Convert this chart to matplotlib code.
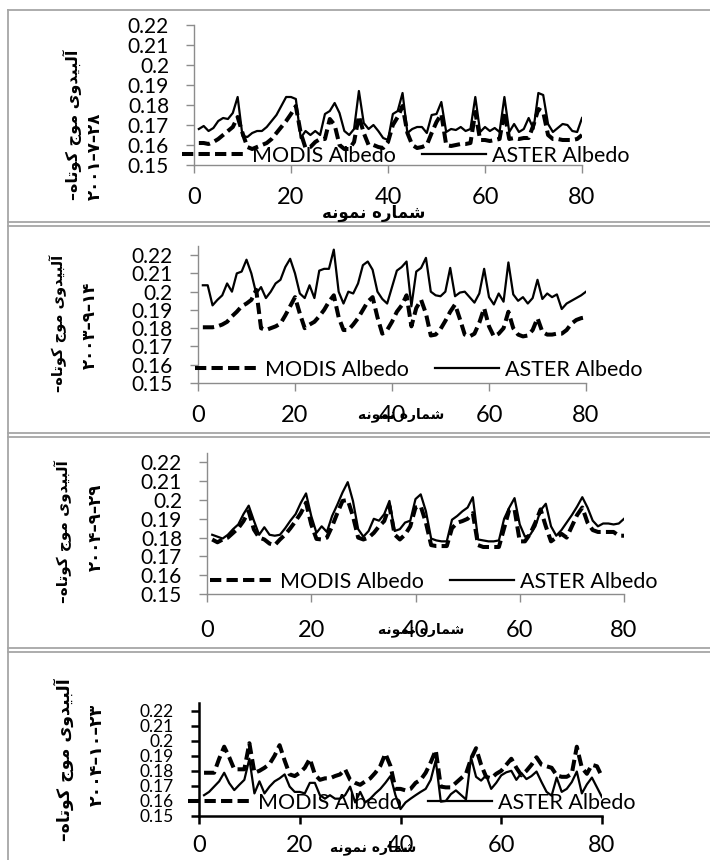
import matplotlib
matplotlib.use("Agg")
import matplotlib.pyplot as plt
from matplotlib.lines import Line2D
import numpy as np

plt.rcParams['font.family'] = ['Lato', 'DejaVu Sans']

W, H = 710, 860

# ---- data (sample number 1..80) ----
x = np.arange(1, 81)

aster_2001 = [0.168, 0.1695, 0.167, 0.1685, 0.172, 0.1735, 0.173, 0.176, 0.184, 0.1645,
              0.164, 0.166, 0.167, 0.167, 0.169, 0.172, 0.175, 0.1795, 0.184, 0.184,
              0.183, 0.1635, 0.167, 0.165, 0.167, 0.165, 0.1755, 0.177, 0.181, 0.176,
              0.167, 0.165, 0.168, 0.187, 0.171, 0.168, 0.170, 0.167, 0.1635, 0.1625,
              0.1755, 0.177, 0.186, 0.166, 0.168, 0.169, 0.169, 0.166, 0.175, 0.1755,
              0.1815, 0.1665, 0.168, 0.1675, 0.169, 0.167, 0.168, 0.184, 0.1665, 0.169,
              0.167, 0.1685, 0.1665, 0.184, 0.1665, 0.1705, 0.1665, 0.168, 0.1735, 0.168,
              0.186, 0.185, 0.1705, 0.1665, 0.1685, 0.1705, 0.170, 0.167, 0.1665, 0.1735]
modis_2001 = [0.161, 0.161, 0.1605, 0.1615, 0.163, 0.165, 0.167, 0.169, 0.174, 0.166,
              0.159, 0.158, 0.159, 0.160, 0.161, 0.163, 0.166, 0.169, 0.172, 0.1755,
              0.1795, 0.166, 0.1585, 0.159, 0.1615, 0.163, 0.163, 0.173, 0.170, 0.160,
              0.158, 0.158, 0.1615, 0.1745, 0.166, 0.160, 0.160, 0.159, 0.1585, 0.1615,
              0.170, 0.174, 0.1795, 0.166, 0.160, 0.1585, 0.159, 0.160, 0.166, 0.1715,
              0.1755, 0.160, 0.1595, 0.160, 0.1605, 0.1605, 0.161, 0.1765, 0.1625, 0.1625,
              0.162, 0.1625, 0.163, 0.1765, 0.163, 0.1635, 0.163, 0.1635, 0.1635, 0.170,
              0.178, 0.1765, 0.165, 0.163, 0.163, 0.1625, 0.1625, 0.1625, 0.163, 0.165]

aster_2003 = [0.2035, 0.2035, 0.1925, 0.1955, 0.198, 0.2045, 0.200, 0.210, 0.211, 0.2175,
              0.210, 0.199, 0.2025, 0.1965, 0.200, 0.2045, 0.2065, 0.2135, 0.218, 0.210,
              0.199, 0.1965, 0.2035, 0.1965, 0.2115, 0.2125, 0.2125, 0.223, 0.200, 0.1935,
              0.200, 0.199, 0.2045, 0.2145, 0.2165, 0.212, 0.200, 0.196, 0.1935, 0.2025,
              0.2115, 0.2135, 0.2165, 0.192, 0.211, 0.213, 0.2185, 0.200, 0.198, 0.1975,
              0.200, 0.213, 0.1975, 0.1995, 0.200, 0.197, 0.194, 0.199, 0.2125, 0.197,
              0.193, 0.199, 0.1945, 0.216, 0.1985, 0.195, 0.197, 0.1935, 0.1965, 0.2065,
              0.196, 0.199, 0.197, 0.1985, 0.1905, 0.1935, 0.195, 0.1965, 0.198, 0.200]
modis_2003 = [0.1805, 0.1805, 0.1805, 0.181, 0.182, 0.1835, 0.1865, 0.189, 0.192, 0.1935,
              0.1955, 0.201, 0.180, 0.179, 0.180, 0.181, 0.1825, 0.187, 0.192, 0.197,
              0.188, 0.180, 0.182, 0.1835, 0.1865, 0.190, 0.1945, 0.198, 0.186, 0.179,
              0.179, 0.182, 0.1855, 0.190, 0.1945, 0.197, 0.186, 0.177, 0.179, 0.1835,
              0.189, 0.1925, 0.198, 0.181, 0.191, 0.1955, 0.188, 0.176, 0.1765, 0.1795,
              0.184, 0.189, 0.193, 0.185, 0.1765, 0.1755, 0.177, 0.183, 0.191, 0.181,
              0.1755, 0.177, 0.180, 0.189, 0.180, 0.1765, 0.1755, 0.176, 0.179, 0.1855,
              0.178, 0.1765, 0.1765, 0.177, 0.177, 0.179, 0.1825, 0.1845, 0.1855, 0.186]

aster_2004a = [0.1815, 0.1805, 0.1795, 0.1815, 0.1845, 0.187, 0.1925, 0.197, 0.189, 0.1815,
               0.1855, 0.1815, 0.181, 0.1815, 0.185, 0.189, 0.1925, 0.1985, 0.2035, 0.1915,
               0.1825, 0.186, 0.183, 0.1915, 0.1975, 0.204, 0.2095, 0.1995, 0.1845, 0.1805,
               0.1835, 0.190, 0.189, 0.1925, 0.1995, 0.1835, 0.1845, 0.188, 0.189, 0.2005,
               0.203, 0.194, 0.1795, 0.1785, 0.178, 0.178, 0.1895, 0.1915, 0.194, 0.196,
               0.2015, 0.179, 0.1785, 0.178, 0.178, 0.1785, 0.190, 0.196, 0.201, 0.187,
               0.1805, 0.1815, 0.186, 0.1945, 0.198, 0.186, 0.181, 0.184, 0.188, 0.192,
               0.1965, 0.2015, 0.196, 0.189, 0.186, 0.1875, 0.1875, 0.187, 0.1875, 0.190]
modis_2004a = [0.179, 0.1775, 0.179, 0.180, 0.1825, 0.185, 0.1888, 0.194, 0.1843, 0.180,
               0.179, 0.1768, 0.176, 0.179, 0.1816, 0.185, 0.1888, 0.193, 0.1986, 0.187,
               0.1793, 0.179, 0.180, 0.186, 0.193, 0.1995, 0.200, 0.1914, 0.180, 0.179,
               0.180, 0.1825, 0.186, 0.1888, 0.1968, 0.1816, 0.179, 0.1816, 0.186, 0.196,
               0.1968, 0.1879, 0.176, 0.1755, 0.1755, 0.1755, 0.185, 0.1879, 0.1888, 0.190,
               0.193, 0.176, 0.175, 0.175, 0.175, 0.175, 0.185, 0.195, 0.195, 0.178,
               0.178, 0.182, 0.188, 0.195, 0.186, 0.178, 0.180, 0.182, 0.180, 0.186,
               0.192, 0.196, 0.188, 0.184, 0.183, 0.183, 0.183, 0.183, 0.181, 0.181]

aster_2004b = [0.1638, 0.166, 0.1695, 0.173, 0.1787, 0.1718, 0.1672, 0.1707, 0.174, 0.188,
               0.165, 0.173, 0.165, 0.1695, 0.173, 0.175, 0.1776, 0.1695, 0.166, 0.166,
               0.165, 0.172, 0.172, 0.1638, 0.1615, 0.1638, 0.1615, 0.1615, 0.1638, 0.1695,
               0.159, 0.166, 0.159, 0.1615, 0.165, 0.168, 0.172, 0.1765, 0.1638, 0.1546,
               0.159, 0.1615, 0.1638, 0.166, 0.168, 0.174, 0.187, 0.1595, 0.160, 0.1645,
               0.167, 0.164, 0.161, 0.189, 0.176, 0.1735, 0.177, 0.168, 0.172, 0.177,
               0.179, 0.180, 0.174, 0.1785, 0.1745, 0.1765, 0.1795, 0.1725, 0.166, 0.1635,
               0.1755, 0.166, 0.168, 0.1725, 0.1795, 0.165, 0.171, 0.1755, 0.169, 0.1625]
modis_2004b = [0.1787, 0.1787, 0.1787, 0.188, 0.196, 0.189, 0.181, 0.181, 0.181, 0.1983,
               0.1787, 0.180, 0.182, 0.1845, 0.190, 0.197, 0.1868, 0.1776, 0.1765, 0.1787,
               0.182, 0.188, 0.1776, 0.174, 0.175, 0.175, 0.1765, 0.1776, 0.181, 0.174,
               0.172, 0.1707, 0.173, 0.175, 0.1787, 0.1833, 0.1914, 0.1833, 0.168, 0.168,
               0.167, 0.168, 0.172, 0.174, 0.1787, 0.1856, 0.1937, 0.1695, 0.169, 0.169,
               0.172, 0.175, 0.178, 0.188, 0.195, 0.184, 0.176, 0.175, 0.178, 0.180,
               0.184, 0.188, 0.182, 0.177, 0.180, 0.184, 0.189, 0.184, 0.183, 0.182,
               0.177, 0.176, 0.176, 0.178, 0.196, 0.182, 0.178, 0.184, 0.183, 0.176]

# persian labels, written in visual (shaped, left-to-right) order
title_fa = ("\u2013" + "\uFEE9\uFE8E\uFE97\uFEEE\uFB90" + " " + "\uFE9D\uFEEE\uFEE3"
            + " " + "\uFBFC\uFEED\uFEAA\uFBFF\uFE92\uFEDF\uFE81")
xlabel_fa = "\uFEEA\uFEE7\uFEEE\uFEE4\uFEE7" + " " + "\uFEE9\uFEAD\uFE8E\uFEE4\uFEB7"
dates_fa = ["\u06F2\u06F0\u06F0\u06F1\u2013\u06F7\u2013\u06F2\u06F8",
            "\u06F2\u06F0\u06F0\u06F3\u2013\u06F9\u2013\u06F1\u06F4",
            "\u06F2\u06F0\u06F0\u06F4\u2013\u06F9\u2013\u06F2\u06F9",
            "\u06F2\u06F0\u06F0\u06F4\u2013\u06F1\u06F0\u2013\u06F2\u06F3"]

xticks = [0, 20, 40, 60, 80]
yticks = [0.15, 0.16, 0.17, 0.18, 0.19, 0.20, 0.21, 0.22]
ytick_labels = ["0.15", "0.16", "0.17", "0.18", "0.19", "0.2", "0.21", "0.22"]

series = [(aster_2001, modis_2001), (aster_2003, modis_2003),
          (aster_2004a, modis_2004a), (aster_2004b, modis_2004b)]

# layout of each panel in pixels
panels = [
    dict(l=194, r=582, top=25, bot=165, ymax=0.22, spine='#8c8c8c', ylab=15, xlab=17, xpad=10,
         leg=(182, 156), t1=(72, 125, 11.5), t2=(95, 156, 12), xl=(374, 213, 12)),
    dict(l=198, r=586, top=246, bot=383, ymax=0.225, spine='#8c8c8c', ylab=15, xlab=17, xpad=10,
         leg=(195, 370), t1=(58, 323, 10.5), t2=(90, 325, 12), xl=(401, 415, 10)),
    dict(l=207, r=624, top=453, bot=594, ymax=0.225, spine='#8c8c8c', ylab=15, xlab=17, xpad=13,
         leg=(210, 582), t1=(63, 532, 11), t2=(96, 527, 12), xl=(421, 630, 10)),
    dict(l=199, r=602, top=703, bot=816, ymax=0.225, spine='black', ylab=12.5, xlab=17, xpad=8,
         leg=(188, 803), t1=(64, 760, 12.5), t2=(97, 755, 12.5), xl=(373, 848, 10)),
]

fig = plt.figure(figsize=(W / 100, H / 100), dpi=100)

# grey frames around panels
frame_c = '#a6a6a6'
def hline(y, x0=8, x1=W):
    fig.add_artist(Line2D([x0 / W, x1 / W], [1 - y / H, 1 - y / H], color=frame_c, lw=1.3,
                          transform=fig.transFigure))
for y in [10, 222, 226, 433, 437, 648, 652]:
    hline(y)
fig.add_artist(Line2D([8 / W, 8 / W], [1 - 10 / H, 0], color=frame_c, lw=1.3,
                      transform=fig.transFigure))

for p, (aster, modis), date in zip(panels, series, dates_fa):
    ax = fig.add_axes([p['l'] / W, 1 - p['bot'] / H, (p['r'] - p['l']) / W,
                       (p['bot'] - p['top']) / H])
    ax.patch.set_alpha(0)
    h_m, = ax.plot(x, modis, color='black', lw=2.9, ls=(0, (2.8, 1.3)), label='MODIS Albedo')
    h_a, = ax.plot(x, aster, color='black', lw=1.6, label='ASTER Albedo')
    ax.set_xlim(0, 80)
    ax.set_ylim(0.15, p['ymax'])
    ax.set_xticks(xticks)
    ax.set_xticklabels([str(t) for t in xticks], fontsize=p['xlab'])
    ax.set_yticks(yticks)
    ax.set_yticklabels(ytick_labels, fontsize=p['ylab'])
    for s in ['top', 'right']:
        ax.spines[s].set_visible(False)
    for s in ['left', 'bottom']:
        ax.spines[s].set_color(p['spine'])
        ax.spines[s].set_linewidth(1.0 if p['spine'] != 'black' else 1.8)
    ax.tick_params(axis='both', colors=p['spine'], labelcolor='black', length=6,
                   width=1.0 if p['spine'] != 'black' else 1.8)
    ax.tick_params(axis='y', pad=12)
    ax.tick_params(axis='x', pad=p['xpad'])

    lx, ly = p['leg']
    ax.legend([h_m, h_a], ['MODIS Albedo', 'ASTER Albedo'], ncol=2, frameon=False,
              loc='center left', bbox_to_anchor=(lx / W, 1 - ly / H),
              bbox_transform=fig.transFigure, fontsize=15.5, handlelength=3.0,
              handletextpad=0.25, columnspacing=1.2, borderpad=0, borderaxespad=0)

    # rotated persian y label in two lines
    tx, ty, ts = p['t1']
    fig.text(tx / W, 1 - ty / H, title_fa, rotation=90, ha='center', va='center',
             fontsize=ts, fontweight='bold', family='DejaVu Sans')
    tx, ty, ts = p['t2']
    fig.text(tx / W, 1 - ty / H, date, rotation=90, ha='center', va='center',
             fontsize=ts, fontweight='bold', family='DejaVu Sans')
    xx, xy, xs = p['xl']
    fig.text(xx / W, 1 - xy / H, xlabel_fa, ha='center', va='center',
             fontsize=xs, fontweight='bold', family='DejaVu Sans')

fig.savefig('out.png', dpi=100)
